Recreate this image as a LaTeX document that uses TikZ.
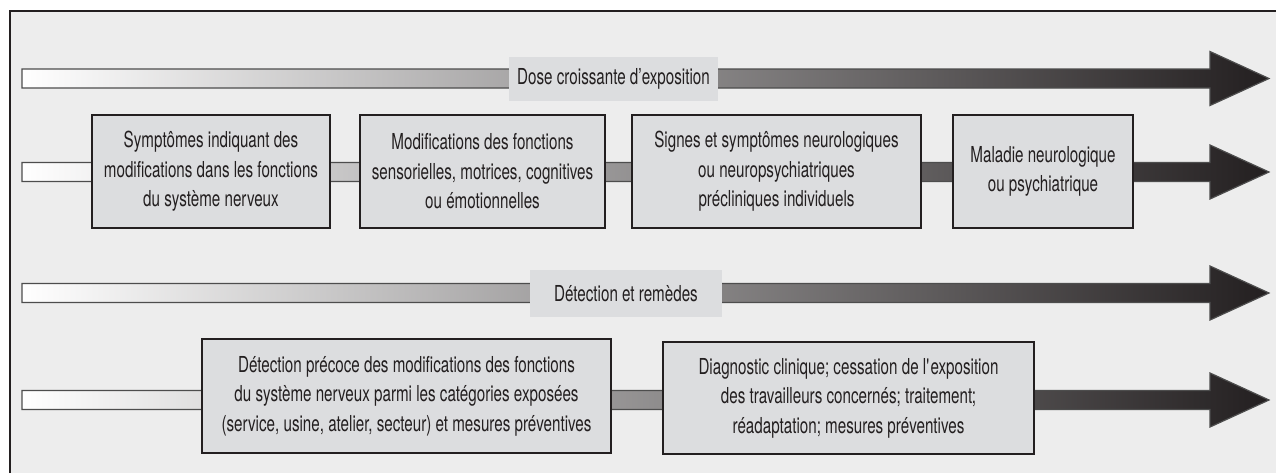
\documentclass[tikz,border=0pt]{standalone}
\usepackage{fontspec}
\setmainfont{TeX Gyre Heros}[FakeStretch=0.69]
\usetikzlibrary{calc}
\definecolor{framegray}{HTML}{EDEDED}
\definecolor{boxgray}{HTML}{DCDDDF}
\definecolor{inkdark}{HTML}{231F20}
\definecolor{shaftedge}{HTML}{4D4D4D}
\tikzstyle{stage_box} = [
    rectangle,
    draw=inkdark,
    fill=boxgray,
    line width=0.7pt,
    align=center,
    inner sep=0pt,
    outer sep=0pt,
    text=inkdark,
    font=\fontsize{11}{14.75}\selectfont
]
\tikzstyle{band_label} = [
    rectangle,
    fill=boxgray,
    align=center,
    inner sep=0pt,
    outer sep=0pt,
    text=inkdark,
    font=\fontsize{11}{14.75}\selectfont
]
% shaded band from #1 to the tip #2
\newcommand{\bandarrow}[2]{
    \shadedraw[left color=white, right color=inkdark, draw=shaftedge, line width=0.6pt]
        ($(#1)+(0,9.5)$) -- ($(#2)+(-59,9.5)$) -- ($(#2)+(-59,27)$) -- (#2)
        -- ($(#2)+(-59,-27)$) -- ($(#2)+(-59,-9.5)$) -- ($(#1)+(0,-9.5)$) -- cycle;
}

\begin{document}
\begin{tikzpicture}[x=0.5pt, y=-0.5pt]
\useasboundingbox (0,0) rectangle (1276,473);
\fill[framegray] (10,11) rectangle (1276,473);
\draw[inkdark, line width=0.8pt] (10,473) -- (10,11) -- (1276,11);

\coordinate (dose_start) at (22,78.5);
\coordinate (dose_tip) at (1269,78.5);
\coordinate (stage_start) at (22,172);
\coordinate (stage_tip) at (1269,172);
\coordinate (remedy_start) at (22,293);
\coordinate (remedy_tip) at (1269,293);
\coordinate (action_start) at (22,400);
\coordinate (action_tip) at (1269,400);

\bandarrow{dose_start}{dose_tip}
\bandarrow{stage_start}{stage_tip}
\bandarrow{remedy_start}{remedy_tip}
\bandarrow{action_start}{action_tip}

\node [band_label, minimum width=104.5pt, minimum height=22pt] (dose_label) at (613.5,78.5)
    {Dose croissante d’exposition};
\node [band_label, minimum width=96pt, minimum height=23.5pt] (remedy_label) at (626,293.5)
    {Détection et remèdes};

\node [stage_box, minimum width=119pt, minimum height=56.5pt] (symptoms) at (211,171.5)
    {Symptômes indiquant des\\modifications dans les fonctions\\du système nerveux};
\node [stage_box, minimum width=122.5pt, minimum height=56.5pt] (functions) at (482.5,171.5)
    {Modifications des fonctions\\sensorielles, motrices, cognitives\\ou émotionnelles};
\node [stage_box, minimum width=144.5pt, minimum height=56.5pt] (preclinical) at (776.5,171.5)
    {Signes et symptômes neurologiques\\ou neuropsychiatriques\\précliniques individuels};
\node [stage_box, minimum width=90pt, minimum height=56.5pt] (disease) at (1043,171.5)
    {Maladie neurologique\\ou psychiatrique};

\node [stage_box, minimum width=204.5pt, minimum height=57pt] (early) at (406.5,396)
    {Détection précoce des modifications des fonctions\\du système nerveux parmi les catégories exposées\\(service, usine, atelier, secteur) et mesures préventives};
\node [stage_box, minimum width=185.5pt, minimum height=56pt] (clinical) at (848.5,398)
    {Diagnostic clinique; cessation de l\textquotesingle exposition\\des travailleurs concernés; traitement;\\réadaptation; mesures préventives};
\end{tikzpicture}
\end{document}
